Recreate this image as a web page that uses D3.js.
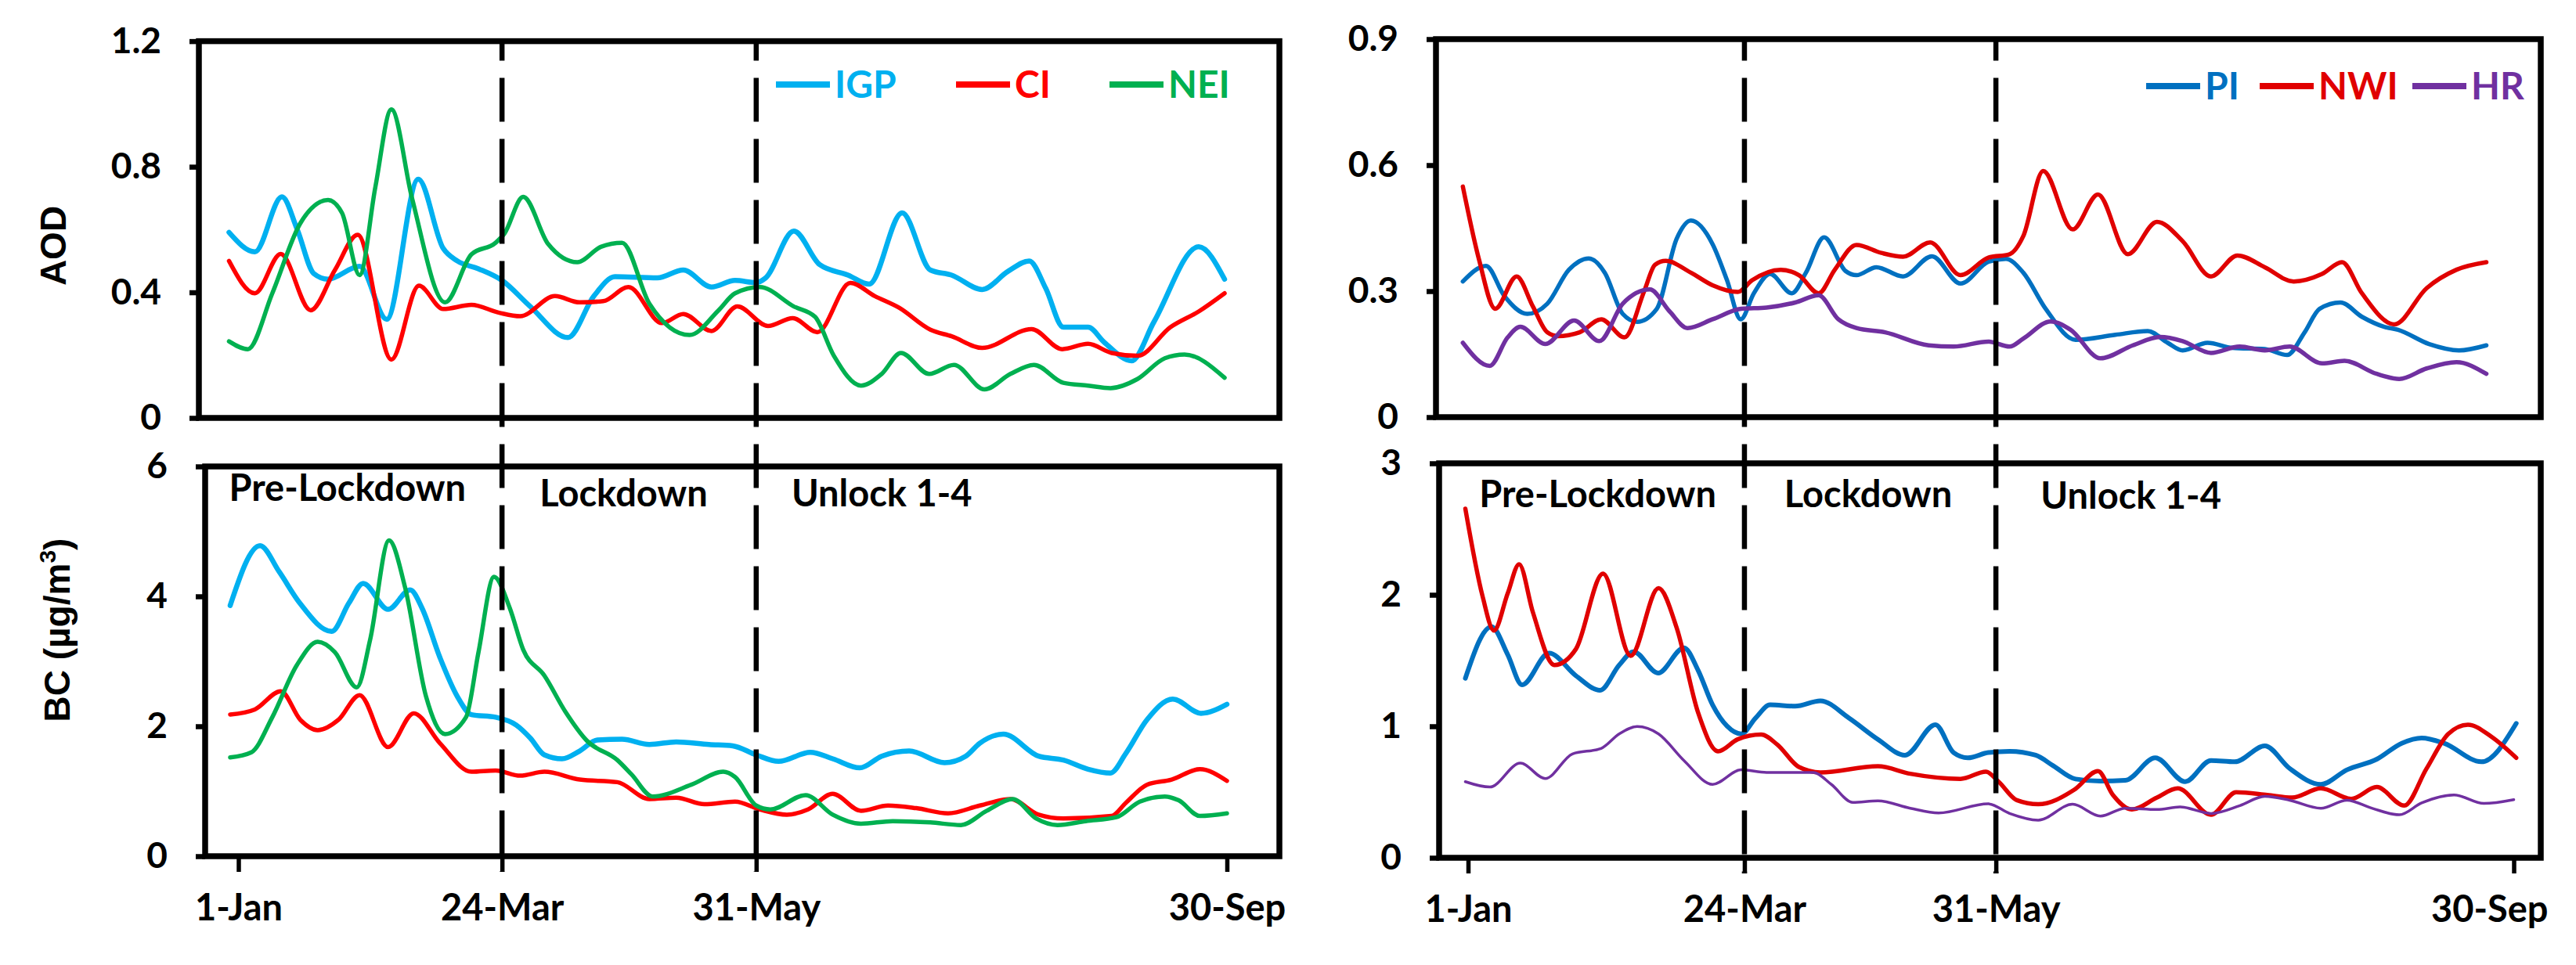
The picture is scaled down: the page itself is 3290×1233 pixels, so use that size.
<!DOCTYPE html>
<html>
<head>
<meta charset="utf-8">
<script src="https://cdn.jsdelivr.net/npm/d3@7"></script>
<style>
  body { margin: 0; background: #fff; }
  svg { display: block; }
</style>
</head>
<body>
<svg id="chart" width="3290" height="1233"></svg>
<script>
// x positions are sample indices: 1-Jan = 0 ... 30-Sep = 42
const dateLabels = ["1-Jan", "24-Mar", "31-May", "30-Sep"];
const leftTickPos = [0, 11.2, 22, 42];
const rightTickPos = [0, 11.1, 21.2, 42];

const periodNames = ["Pre-Lockdown", "Lockdown", "Unlock 1-4"];
const leftPeriodPos = [-0.4, 12.8, 23.5];
const rightPeriodPos = [0.45, 12.7, 23.0];

const aodLeftTicks = [0, 0.4, 0.8, 1.2];
const bcLeftTicks = [0, 2, 4, 6];
const aodRightTicks = [0, 0.3, 0.6, 0.9];
const bcRightTicks = [0, 1, 2, 3];

const leftRegions = ["IGP", "CI", "NEI"];
const rightRegions = ["PI", "NWI", "HR"];

// ---- AOD, left ----
const igpAod = [[-0.4,0.591],[0.7,0.529],[1.85,0.704],[2.5,0.6],[3.2,0.46],[3.8,0.442],[5.15,0.483],[6.3,0.314],
  [7.64,0.76],[8.7,0.54],[9.3,0.5],[10.2,0.475],[11.2,0.438],[12.4,0.355],[14.0,0.256],[15.1,0.388],[16.0,0.45],
  [17.8,0.446],[18.9,0.471],[20.1,0.417],[21.1,0.438],[22.0,0.431],[22.4,0.446],[23.6,0.595],[24.7,0.488],
  [25.9,0.455],[26.8,0.426],[28.2,0.653],[29.4,0.471],[30.3,0.455],[31.6,0.409],[32.7,0.467],[33.6,0.5],
  [34.3,0.413],[35.05,0.289],[36.1,0.289],[36.8,0.24],[37.95,0.182],[38.9,0.306],[40.8,0.545],[41.9,0.442]];
const ciAod = [[-0.4,0.5],[0.7,0.397],[1.8,0.522],[3.07,0.343],[4.1,0.471],[5.07,0.583],[6.5,0.186],[7.67,0.421],
  [8.7,0.347],[9.9,0.36],[11.08,0.335],[11.97,0.324],[13.45,0.388],[14.5,0.368],[15.5,0.372],[16.57,0.417],
  [18.0,0.302],[18.9,0.331],[20.1,0.277],[21.2,0.355],[22.5,0.293],[23.55,0.318],[24.6,0.273],[26.0,0.43],
  [27.04,0.388],[28.07,0.351],[29.4,0.281],[30.3,0.26],[31.6,0.223],[33.7,0.283],[35.0,0.219],[36.1,0.236],
  [37.1,0.207],[38.2,0.198],[39.6,0.289],[40.8,0.339],[41.9,0.397]];
const neiAod = [[-0.4,0.244],[0.4,0.219],[1.44,0.397],[2.63,0.62],[3.81,0.694],[4.4,0.653],[5.15,0.455],[5.82,0.736],
  [6.5,0.983],[7.37,0.702],[8.78,0.368],[9.9,0.521],[10.93,0.558],[11.3,0.587],[12.1,0.704],[13.16,0.554],
  [14.4,0.496],[15.4,0.545],[16.3,0.558],[17.46,0.364],[19.17,0.264],[20.4,0.343],[21.1,0.397],[22.15,0.417],
  [23.6,0.355],[24.5,0.322],[25.3,0.198],[26.45,0.103],[27.33,0.14],[28.15,0.207],[29.35,0.14],[30.4,0.169],
  [31.7,0.091],[32.8,0.14],[33.8,0.169],[35.05,0.112],[36.1,0.103],[37.05,0.095],[38.2,0.124],[39.36,0.19],
  [40.2,0.202],[41.9,0.128]];

// ---- BC, left ----
const igpBc = [[-0.35,3.86],[0.92,4.78],[1.73,4.38],[2.6,3.9],[3.96,3.46],[4.7,3.9],[5.3,4.2],[6.36,3.8],[7.3,4.1],
  [7.8,3.82],[8.56,3.06],[9.3,2.46],[9.9,2.18],[10.93,2.14],[11.8,2.02],[12.4,1.82],[13.0,1.56],[13.75,1.5],
  [14.5,1.62],[15.25,1.79],[16.3,1.8],[17.46,1.72],[18.6,1.76],[20.0,1.72],[21.0,1.7],[22.0,1.56],[22.95,1.46],
  [24.3,1.6],[25.25,1.5],[26.4,1.36],[27.33,1.54],[28.5,1.62],[30.0,1.44],[30.9,1.54],[31.5,1.74],[32.5,1.88],
  [34.0,1.54],[35.05,1.48],[36.1,1.34],[37.05,1.28],[37.7,1.58],[38.6,2.1],[39.7,2.42],[40.9,2.2],[42.0,2.34]];
const ciBc = [[-0.35,2.18],[0.7,2.26],[1.8,2.54],[2.63,2.1],[3.37,1.94],[4.25,2.1],[5.15,2.48],[6.36,1.68],
  [7.45,2.2],[8.56,1.74],[9.9,1.3],[10.93,1.32],[11.97,1.24],[13.0,1.3],[14.5,1.18],[16.1,1.14],[17.46,0.88],
  [18.6,0.9],[19.8,0.8],[21.1,0.84],[22.15,0.72],[23.3,0.64],[24.2,0.72],[25.25,0.96],[26.45,0.7],[27.6,0.78],
  [28.8,0.74],[30.15,0.66],[31.5,0.78],[32.8,0.88],[34.0,0.64],[35.05,0.58],[37.1,0.62],[37.7,0.82],[38.6,1.1],
  [39.65,1.18],[40.85,1.34],[42.0,1.16]];
const neiBc = [[-0.35,1.52],[0.55,1.6],[1.44,2.14],[2.48,2.94],[3.37,3.3],[4.1,3.14],[5.03,2.6],[5.6,3.34],
  [6.4,4.86],[7.08,4.14],[7.97,2.46],[8.78,1.88],[9.67,2.14],[10.2,3.14],[10.86,4.3],[11.53,3.82],[12.1,3.18],
  [13.0,2.78],[13.9,2.22],[14.8,1.78],[16.1,1.48],[16.7,1.26],[17.6,0.92],[19.24,1.1],[20.6,1.3],[21.1,1.22],
  [22.0,0.78],[22.6,0.72],[24.1,0.94],[25.25,0.64],[26.45,0.5],[27.8,0.54],[29.4,0.52],[30.7,0.48],[31.8,0.7],
  [32.9,0.88],[33.9,0.58],[34.8,0.48],[36.0,0.54],[37.3,0.6],[38.3,0.84],[39.36,0.92],[39.95,0.86],[40.85,0.62],
  [42.0,0.66]];

// ---- AOD, right ----
const piAod = [[-0.21,0.323],[0.72,0.36],[1.45,0.289],[2.38,0.246],[3.18,0.27],[4.05,0.351],[4.84,0.378],[5.49,0.344],
  [6.21,0.246],[6.79,0.227],[7.58,0.258],[8.38,0.425],[8.95,0.468],[9.82,0.412],[10.4,0.326],[10.95,0.233],
  [11.48,0.295],[12.13,0.341],[13.0,0.295],[13.57,0.344],[14.3,0.428],[15.16,0.348],[15.6,0.338],[16.4,0.357],
  [17.47,0.335],[18.63,0.383],[19.78,0.318],[20.9,0.37],[21.6,0.377],[22.3,0.344],[23.2,0.258],[24.4,0.184],
  [26.0,0.196],[27.3,0.205],[28.1,0.177],[28.7,0.159],[29.7,0.177],[30.7,0.165],[32.0,0.162],[32.9,0.148],
  [33.6,0.202],[34.2,0.258],[35.04,0.273],[35.9,0.239],[36.8,0.215],[37.35,0.208],[38.6,0.174],[39.8,0.159],
  [40.9,0.171]];
const nwiAod = [[-0.21,0.549],[0.44,0.375],[1.09,0.258],[1.95,0.335],[2.6,0.264],[3.18,0.202],[3.6,0.193],[4.48,0.202],
  [5.35,0.233],[6.28,0.19],[7.08,0.301],[7.51,0.363],[7.94,0.372],[8.95,0.344],[9.82,0.314],[10.83,0.298],
  [11.41,0.326],[12.56,0.351],[13.29,0.338],[14.08,0.295],[14.73,0.351],[15.6,0.41],[16.6,0.391],[17.47,0.382],
  [18.56,0.416],[19.78,0.338],[20.9,0.38],[21.75,0.388],[22.3,0.431],[23.1,0.586],[24.28,0.447],[25.3,0.53],
  [26.5,0.388],[27.67,0.465],[28.7,0.419],[29.84,0.335],[30.9,0.385],[32.0,0.357],[33.16,0.323],[34.3,0.341],
  [35.1,0.369],[35.9,0.295],[37.2,0.221],[38.5,0.307],[39.7,0.351],[40.9,0.369]];
const hrAod = [[-0.21,0.177],[0.87,0.122],[1.59,0.19],[2.1,0.215],[3.1,0.174],[4.26,0.23],[5.27,0.181],[6.21,0.27],
  [7.3,0.304],[8.09,0.252],[8.81,0.212],[9.82,0.233],[10.97,0.258],[11.99,0.261],[13.14,0.273],[14.08,0.29],
  [14.87,0.233],[15.6,0.212],[16.75,0.202],[18.5,0.171],[19.5,0.168],[20.9,0.18],[21.75,0.168],[22.3,0.187],
  [23.4,0.228],[24.2,0.208],[25.4,0.14],[26.7,0.171],[27.8,0.191],[28.7,0.181],[29.84,0.153],[30.99,0.168],
  [32.0,0.159],[33.0,0.168],[34.3,0.128],[35.2,0.134],[36.5,0.103],[37.4,0.091],[38.5,0.116],[39.7,0.131],
  [40.9,0.103]];

// ---- BC, right ----
const piBc = [[-0.11,1.365],[0.94,1.758],[1.59,1.546],[2.17,1.315],[3.25,1.556],[4.33,1.385],[5.3,1.274],[6.07,1.466],
  [6.65,1.567],[7.63,1.405],[8.67,1.597],[9.24,1.425],[9.82,1.163],[10.4,1.002],[10.97,0.942],[11.55,1.063],
  [12.13,1.163],[13.14,1.153],[14.15,1.194],[15.3,1.063],[16.46,0.901],[17.55,0.78],[18.77,1.012],[19.5,0.8],
  [20.07,0.76],[20.9,0.8],[21.75,0.81],[22.8,0.78],[23.5,0.7],[24.4,0.599],[25.4,0.583],[26.4,0.589],[27.6,0.76],
  [28.8,0.579],[29.84,0.74],[30.8,0.73],[32.0,0.851],[33.0,0.679],[34.25,0.558],[35.3,0.669],[36.5,0.75],
  [37.5,0.871],[38.3,0.911],[39.2,0.871],[40.7,0.73],[42.1,1.022]];
const nwiBc = [[-0.11,2.655],[0.58,1.99],[1.04,1.728],[1.59,2.01],[2.05,2.232],[2.6,1.869],[3.47,1.466],[4.33,1.587],
  [5.42,2.161],[6.53,1.536],[7.65,2.05],[8.38,1.748],[9.24,1.103],[10.04,0.81],[10.83,0.901],[11.77,0.937],
  [12.42,0.861],[13.29,0.69],[14.15,0.649],[16.46,0.696],[17.76,0.639],[19.78,0.6],[20.8,0.655],[21.3,0.58],
  [22.04,0.438],[22.9,0.407],[24.35,0.518],[25.3,0.659],[25.9,0.478],[26.66,0.367],[27.67,0.458],[28.5,0.528],
  [29.84,0.327],[30.85,0.498],[32.1,0.478],[33.1,0.458],[34.25,0.528],[35.47,0.448],[36.5,0.538],[37.6,0.397],
  [38.5,0.679],[39.37,0.942],[40.16,1.012],[41.1,0.921],[42.1,0.76]];
const hrBc = [[-0.11,0.579],[0.87,0.538],[2.1,0.72],[3.1,0.603],[4.19,0.79],[5.34,0.831],[6.07,0.942],[6.79,0.998],
  [7.65,0.942],[8.67,0.74],[9.82,0.558],[10.97,0.669],[11.99,0.649],[13.86,0.649],[14.59,0.558],[15.45,0.421],
  [16.46,0.433],[17.76,0.377],[18.9,0.341],[20.9,0.41],[21.75,0.337],[22.9,0.286],[24.28,0.407],[25.4,0.317],
  [26.4,0.377],[27.67,0.367],[28.6,0.387],[29.84,0.337],[31.0,0.397],[32.0,0.468],[33.0,0.438],[34.25,0.377],
  [35.3,0.438],[36.3,0.377],[37.4,0.327],[38.3,0.417],[39.6,0.478],[40.8,0.413],[42.0,0.442]];

const colors = { IGP: "#00B0F0", CI: "#FF0000", NEI: "#00B050", PI: "#0070C0", NWI: "#E00000", HR: "#7030A0" };

const svg = d3.select("#chart");
const labelFont = "Lato, 'Open Sans', sans-serif";
const titleFont = "'Liberation Sans', Arial, sans-serif";

// layout: frames in page pixels, x range maps index 0..42
const columns = [
  {
    xRange: [304.5, 1567],
    tickPos: leftTickPos,
    periodPos: leftPeriodPos,
    periodBase: [44, 51, 51],
    top: { box: { x0: 254, x1: 1634, y0: 52.6, y1: 534 }, yMax: 1.2, yTicks: aodLeftTicks,
      series: [["IGP", igpAod, 6.5], ["CI", ciAod, 5.5], ["NEI", neiAod, 5.5]],
      legendX: [991, 1221, 1417], legendY: 108, names: leftRegions },
    bottom: { box: { x0: 262, x1: 1634, y0: 596, y1: 1094 }, yMax: 6, yTicks: bcLeftTicks,
      series: [["IGP", igpBc, 6.5], ["CI", ciBc, 5.5], ["NEI", neiBc, 5.5]] }
  },
  {
    xRange: [1875, 3210.5],
    tickPos: rightTickPos,
    periodPos: rightPeriodPos,
    periodBase: [56, 56, 58],
    top: { box: { x0: 1834, x1: 3245, y0: 50, y1: 533 }, yMax: 0.9, yTicks: aodRightTicks,
      series: [["PI", piAod, 5.5], ["NWI", nwiAod, 5.5], ["HR", hrAod, 5.5]],
      legendX: [2741, 2886, 3081], legendY: 110, names: rightRegions },
    bottom: { box: { x0: 1838, x1: 3245, y0: 592, y1: 1096 }, yMax: 3, yTicks: bcRightTicks,
      series: [["PI", piBc, 6], ["NWI", nwiBc, 5.5], ["HR", hrBc, 3.5]] }
  }
];

function drawPanel(p, x, isBottom, col) {
  const b = p.box;
  const y = d3.scaleLinear().domain([0, p.yMax]).range([b.y1, b.y0]);
  const g = svg.append("g");

  const line = d3.line()
    .x(d => x(d[0]))
    .y(d => y(d[1]))
    .curve(d3.curveMonotoneX);

  p.series.forEach(([name, data, w]) => {
    g.append("path")
      .datum(data)
      .attr("d", line)
      .attr("fill", "none")
      .attr("stroke", colors[name])
      .attr("stroke-width", w)
      .attr("stroke-linejoin", "round")
      .attr("stroke-linecap", "round");
  });

  const yAxis = g.append("g")
    .attr("transform", `translate(${b.x0},0)`)
    .call(d3.axisLeft(y).tickValues(p.yTicks).tickSize(12).tickPadding(36).tickFormat(d => String(d)));
  yAxis.select(".domain").remove();
  yAxis.selectAll("line").attr("stroke", "#000").attr("stroke-width", 6.5);
  yAxis.selectAll("text")
    .attr("font-family", labelFont)
    .attr("font-weight", 700)
    .attr("font-size", 46)
    .attr("fill", "#000");

  if (isBottom) {
    const xAxis = g.append("g")
      .attr("transform", `translate(0,${b.y1})`)
      .call(d3.axisBottom(x).tickValues(col.tickPos).tickSize(20).tickFormat((d, i) => dateLabels[i]));
    xAxis.select(".domain").remove();
    xAxis.selectAll("line").attr("stroke", "#000").attr("stroke-width", 5.5);
    xAxis.selectAll("text")
      .attr("y", 82)
      .attr("dy", 0)
      .attr("font-family", labelFont)
      .attr("font-weight", 700)
      .attr("font-size", 47)
      .attr("fill", "#000")
      .each(function (d) {
        // keep last label inside the page like the original
        const half = this.getComputedTextLength() / 2;
        const over = x(d) + half - 3254;
        if (over > 0) d3.select(this).attr("x", -over);
      });

    periodNames.forEach((name, i) => {
      g.append("text")
        .attr("x", x(col.periodPos[i]))
        .attr("y", b.y0 + col.periodBase[i])
        .attr("font-family", labelFont)
        .attr("font-weight", 700)
        .attr("font-size", 47)
        .attr("fill", "#000")
        .text(name);
    });
  }

  if (p.legendX) {
    p.names.forEach((name, i) => {
      const lx = p.legendX[i];
      g.append("line")
        .attr("x1", lx).attr("x2", lx + 69)
        .attr("y1", p.legendY).attr("y2", p.legendY)
        .attr("stroke", colors[name])
        .attr("stroke-width", 8);
      g.append("text")
        .attr("x", lx + 75)
        .attr("y", p.legendY + 17)
        .attr("font-family", labelFont)
        .attr("font-weight", 700)
        .attr("font-size", 48)
        .attr("fill", colors[name])
        .text(name);
    });
  }

  g.append("rect")
    .attr("x", b.x0).attr("y", b.y0)
    .attr("width", b.x1 - b.x0).attr("height", b.y1 - b.y0)
    .attr("fill", "none")
    .attr("stroke", "#000")
    .attr("stroke-width", 7.5);
}

columns.forEach(col => {
  const x = d3.scaleLinear().domain([0, 42]).range(col.xRange);
  drawPanel(col.top, x, false, col);
  drawPanel(col.bottom, x, true, col);

  // lockdown boundaries, dashed through both panels
  [col.tickPos[1], col.tickPos[2]].forEach(t => {
    svg.append("line")
      .attr("x1", x(t)).attr("x2", x(t))
      .attr("y1", col.top.box.y0).attr("y2", col.bottom.box.y1 + 20)
      .attr("stroke", "#000")
      .attr("stroke-width", 6.5)
      .attr("stroke-dasharray", "56 22")
      .attr("stroke-dashoffset", col.top.box.y0 - 21.4);
  });
});

// y-axis titles
svg.append("text")
  .attr("transform", "translate(84,314) rotate(-90)")
  .attr("text-anchor", "middle")
  .attr("font-family", titleFont)
  .attr("font-weight", 700)
  .attr("font-size", 46)
  .text("AOD");

const bcTitle = svg.append("text")
  .attr("transform", "translate(89,805) rotate(-90)")
  .attr("text-anchor", "middle")
  .attr("font-family", titleFont)
  .attr("font-weight", 700)
  .attr("font-size", 46);
bcTitle.append("tspan").text("BC (µg/m");
bcTitle.append("tspan").attr("font-size", 30).attr("dy", -18).text("3");
bcTitle.append("tspan").attr("dy", 18).text(")");
</script>
</body>
</html>
